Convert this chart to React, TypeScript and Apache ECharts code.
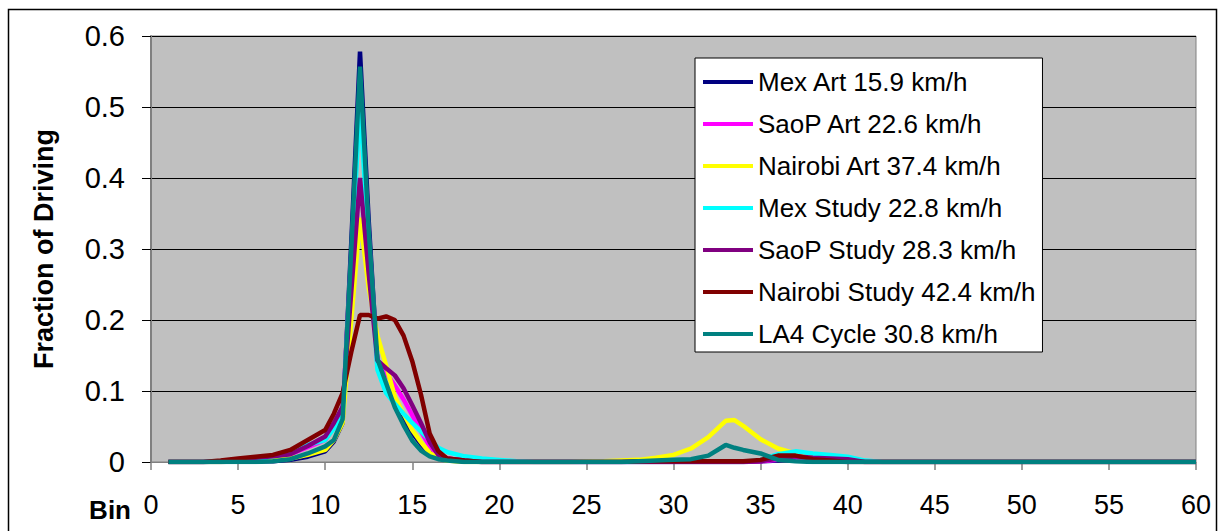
import React, { useEffect, useRef } from "react";
import * as echarts from "echarts";

const bins = [1, 2, 3, 4, 5, 6, 7, 8, 9, 10, 10.5, 11, 11.5, 12, 12.5, 13, 13.5, 14, 14.5, 15, 15.5, 16, 16.5, 17, 18, 19, 20, 21, 22, 24, 26, 27, 28, 29, 30, 31, 32, 33, 33.5, 34, 35, 36, 37, 38, 39, 40, 41, 42, 60];

const mexArt = [0, 0, 0, 0, 0.001, 0.001, 0.001, 0.003, 0.0075, 0.015, 0.029, 0.055, 0.31, 0.578, 0.34, 0.138, 0.106, 0.083, 0.062, 0.041, 0.025, 0.013, 0.006, 0.003, 0.001, 0, 0, 0, 0, 0, 0, 0, 0, 0, 0, 0, 0, 0, 0, 0, 0.001, 0.002, 0.003, 0.002, 0.001, 0, 0, 0, 0];
const saopArt = [0, 0, 0, 0.001, 0.002, 0.003, 0.006, 0.011, 0.021, 0.031, 0.05, 0.068, 0.29, 0.524, 0.32, 0.14, 0.125, 0.108, 0.088, 0.066, 0.043, 0.022, 0.01, 0.005, 0.002, 0, 0, 0, 0, 0, 0, 0, 0, 0, 0, 0, 0, 0, 0, 0, 0.001, 0.003, 0.006, 0.005, 0.004, 0.003, 0, 0, 0];
const nairobiArt = [0, 0, 0, 0, 0.001, 0.001, 0.003, 0.005, 0.01, 0.017, 0.031, 0.055, 0.2, 0.344, 0.245, 0.178, 0.136, 0.092, 0.068, 0.045, 0.028, 0.013, 0.005, 0.002, 0, 0, 0, 0, 0, 0, 0.001, 0.002, 0.003, 0.006, 0.01, 0.019, 0.035, 0.058, 0.059, 0.051, 0.032, 0.019, 0.012, 0.006, 0.003, 0.001, 0, 0, 0];
const mexStudy = [0, 0, 0, 0.001, 0.002, 0.003, 0.008, 0.012, 0.024, 0.031, 0.047, 0.064, 0.28, 0.505, 0.3, 0.13, 0.097, 0.082, 0.068, 0.055, 0.043, 0.031, 0.02, 0.014, 0.008, 0.005, 0.003, 0.001, 0, 0, 0, 0, 0, 0, 0, 0, 0, 0, 0, 0, 0.003, 0.011, 0.015, 0.012, 0.01, 0.0075, 0.002, 0, 0];
const saopStudy = [0, 0, 0, 0.001, 0.004, 0.006, 0.008, 0.011, 0.0225, 0.036, 0.055, 0.078, 0.24, 0.4, 0.265, 0.143, 0.132, 0.122, 0.104, 0.08, 0.055, 0.028, 0.01, 0.005, 0.002, 0, 0, 0, 0, 0, 0, 0, 0, 0, 0, 0, 0, 0, 0, 0, 0.001, 0.005, 0.008, 0.006, 0.005, 0.004, 0, 0, 0];
const nairobiStudy = [0, 0, 0, 0.002, 0.005, 0.0075, 0.01, 0.017, 0.031, 0.045, 0.068, 0.097, 0.155, 0.207, 0.207, 0.202, 0.205, 0.2, 0.178, 0.142, 0.095, 0.04, 0.015, 0.005, 0.002, 0, 0, 0, 0, 0, 0, 0, 0.001, 0.001, 0.001, 0.001, 0.001, 0.001, 0.001, 0.001, 0.003, 0.009, 0.009, 0.004, 0.002, 0, 0, 0, 0];
const la4Cycle = [0, 0, 0, 0, 0, 0, 0.001, 0.004, 0.012, 0.022, 0.031, 0.06, 0.3, 0.557, 0.327, 0.145, 0.111, 0.077, 0.052, 0.03, 0.016, 0.008, 0.004, 0.002, 0, 0, 0, 0, 0, 0, 0, 0, 0.001, 0.002, 0.003, 0.004, 0.009, 0.024, 0.02, 0.017, 0.012, 0.003, 0.001, 0, 0, 0, 0, 0, 0];

const seriesNames = [
  "Mex Art 15.9 km/h",
  "SaoP Art 22.6 km/h",
  "Nairobi Art 37.4 km/h",
  "Mex Study 22.8 km/h",
  "SaoP Study 28.3 km/h",
  "Nairobi Study 42.4 km/h",
  "LA4 Cycle 30.8 km/h",
];
const seriesValues = [mexArt, saopArt, nairobiArt, mexStudy, saopStudy, nairobiStudy, la4Cycle];
const seriesColors = ["#000080", "#FF00FF", "#FFFF00", "#00FFFF", "#800080", "#800000", "#008080"];

const yTicks = [0, 0.1, 0.2, 0.3, 0.4, 0.5, 0.6];
const xTicks = [0, 5, 10, 15, 20, 25, 30, 35, 40, 45, 50, 55, 60];

const FONT = "'Liberation Sans', Arial, sans-serif";

export default function App() {
  const ref = useRef<HTMLDivElement>(null);

  useEffect(() => {
    if (!ref.current) return;
    const chart = echarts.init(ref.current, null, { renderer: "svg" });
    const option = {
      animation: false,
      backgroundColor: "#FFFFFF",
      textStyle: { fontFamily: FONT },
      grid: {
        left: 151,
        right: 25,
        top: 36,
        bottom: 69,
        show: true,
        backgroundColor: "#C0C0C0",
        borderColor: "#808080",
        borderWidth: 1,
      },
      legend: {
        orient: "vertical",
        left: 695,
        top: 58,
        data: seriesNames,
        icon: "rect",
        itemWidth: 50,
        itemHeight: 4,
        itemGap: 12,
        padding: [9, 7, 3, 8],
        backgroundColor: "#FFFFFF",
        borderColor: "#000000",
        borderWidth: 1,
        textStyle: { fontSize: 26, lineHeight: 30, color: "#000", fontFamily: FONT },
      },
      xAxis: {
        type: "value",
        min: xTicks[0],
        max: xTicks[xTicks.length - 1],
        interval: 5,
        splitLine: { show: false },
        axisLine: { show: true, onZero: false, lineStyle: { color: "#808080", width: 1 } },
        axisTick: { show: true, inside: false, length: 8, lineStyle: { color: "#808080", width: 1.5 } },
        axisLabel: { fontSize: 27, color: "#000", margin: 29, fontFamily: FONT },
      },
      yAxis: {
        type: "value",
        min: yTicks[0],
        max: yTicks[yTicks.length - 1],
        interval: 0.1,
        name: "Fraction of Driving",
        nameLocation: "middle",
        nameRotate: 90,
        nameGap: 94,
        nameTextStyle: { fontSize: 27, fontWeight: "bold", color: "#000", fontFamily: FONT },
        splitLine: { show: true, lineStyle: { color: "#000000", width: 1 } },
        axisLine: { show: true, lineStyle: { color: "#808080", width: 2 } },
        axisTick: { show: true, inside: false, length: 9, lineStyle: { color: "#000", width: 1 } },
        axisLabel: {
          fontSize: 29,
          color: "#000",
          margin: 26,
          fontFamily: FONT,
          formatter: (v: number) => String(+v.toFixed(1)),
        },
      },
      series: seriesNames.map((name, i) => ({
        name,
        type: "line",
        symbol: "none",
        showSymbol: false,
        color: seriesColors[i],
        lineStyle: { color: seriesColors[i], width: 4.5 },
        data: bins.map((b, j) => [b, seriesValues[i][j]]),
      })),
      graphic: [
        {
          type: "text",
          x: 131,
          y: 510,
          silent: true,
          style: {
            text: "Bin",
            fontSize: 26,
            fontWeight: "bold",
            fontFamily: FONT,
            fill: "#000",
            align: "right",
            verticalAlign: "middle",
          },
        },
        {
          type: "rect",
          silent: true,
          shape: { x: 8.5, y: 9.5, width: 1208, height: 560 },
          style: { fill: "none", stroke: "#000", lineWidth: 1.5 },
        },
      ],
    };
    chart.setOption(option);
    return () => chart.dispose();
  }, []);

  return (
    <div
      ref={ref}
      style={{ position: "absolute", left: 0, top: 0, width: 1221, height: 531 }}
    />
  );
}
